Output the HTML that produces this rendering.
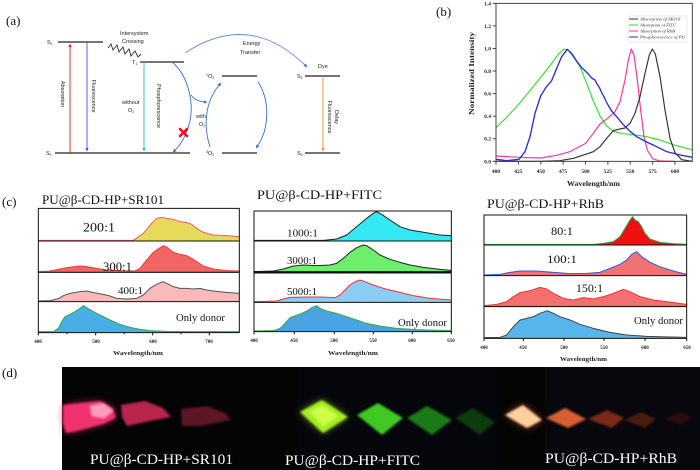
<!DOCTYPE html>
<html><head><meta charset="utf-8">
<style>html,body{margin:0;padding:0;background:#fff}svg{display:block}</style>
</head><body>
<svg xmlns="http://www.w3.org/2000/svg" width="700" height="470" viewBox="0 0 700 470">
<defs>
<marker id="mr" viewBox="0 0 10 10" refX="9" refY="5" markerWidth="4" markerHeight="4" orient="auto"><path d="M0,0 L10,5 L0,10z" fill="#e82020"/></marker>
<marker id="mp" viewBox="0 0 10 10" refX="9" refY="5" markerWidth="4" markerHeight="4" orient="auto"><path d="M0,0 L10,5 L0,10z" fill="#4f4fe0"/></marker>
<marker id="mc" viewBox="0 0 10 10" refX="9" refY="5" markerWidth="4" markerHeight="4" orient="auto"><path d="M0,0 L10,5 L0,10z" fill="#20c0c8"/></marker>
<marker id="mo" viewBox="0 0 10 10" refX="9" refY="5" markerWidth="4" markerHeight="4" orient="auto"><path d="M0,0 L10,5 L0,10z" fill="#f08a40"/></marker>
<marker id="mb" viewBox="0 0 10 10" refX="9" refY="5" markerWidth="4" markerHeight="4" orient="auto"><path d="M0,0 L10,5 L0,10z" fill="#3a6fc8"/></marker>
<filter id="bl" x="-30%" y="-30%" width="160%" height="160%"><feGaussianBlur stdDeviation="1"/></filter>
<filter id="bl2" x="-50%" y="-50%" width="200%" height="200%"><feGaussianBlur stdDeviation="4"/></filter>
</defs>
<rect width="700" height="470" fill="#fff"/>

<!-- ============ PANEL A ============ -->
<text x="6" y="25" font-family="Liberation Serif, serif" font-size="13" fill="#111">(a)</text>
<g stroke="#222" stroke-width="1.3">
<line x1="58" y1="42" x2="103" y2="42"/>
<line x1="55" y1="153" x2="190" y2="153"/>
<line x1="140" y1="62" x2="184" y2="62"/>
<line x1="222" y1="76" x2="257" y2="76"/>
<line x1="222" y1="153" x2="257" y2="153"/>
<line x1="305" y1="76" x2="340" y2="76"/>
<line x1="305" y1="153" x2="340" y2="153"/>
</g>
<line x1="70" y1="153" x2="70" y2="44" stroke="#e82020" stroke-width="0.9" marker-end="url(#mr)"/>
<line x1="87" y1="42" x2="87" y2="151" stroke="#4f4fe0" stroke-width="0.9" marker-end="url(#mp)"/>
<line x1="144" y1="62" x2="144" y2="151" stroke="#20c0c8" stroke-width="0.9" marker-end="url(#mc)"/>
<line x1="323" y1="76" x2="323" y2="151" stroke="#f08a40" stroke-width="0.9" marker-end="url(#mo)"/>
<polyline points="108,48 111,44 113,50 117,45 119,52 123,47 125,54 129,49 131,56 135,51 138,57 141,54" fill="none" stroke="#2a2a50" stroke-width="0.9"/>
<g fill="none" stroke="#3a6fc8" stroke-width="0.9">
<path d="M172,62 C188,75 196,105 188,128 C184,140 178,148 173,152" marker-end="url(#mb)"/>
<path d="M191,95 Q196,102 207,102" marker-end="url(#mb)"/>
<path d="M210,147 C203,125 205,100 221,83" marker-end="url(#mb)"/>
<path d="M258,82 C270,100 270,130 256,148" marker-end="url(#mb)"/>
<path d="M185,53 Q250,10 307,67" stroke="#6a8fc8" marker-end="url(#mb)"/>
</g>
<g stroke="#e8101c" stroke-width="2.6" stroke-linecap="round">
<line x1="180" y1="129" x2="187" y2="136"/><line x1="187" y1="129" x2="180" y2="136"/>
</g>
<g font-family="Liberation Sans, sans-serif" font-size="5.5" fill="#222">
<text x="47" y="44">S<tspan font-size="3.5" dy="1">1</tspan></text>
<text x="46" y="155">S<tspan font-size="3.5" dy="1">0</tspan></text>
<text x="132" y="64">T<tspan font-size="3.5" dy="1">1</tspan></text>
<text x="120" y="35">Intersystem</text>
<text x="122" y="43">Crossing</text>
<text x="122" y="104">without</text>
<text x="128" y="112">O<tspan font-size="3.5" dy="1">2</tspan></text>
<text x="196" y="118">with</text>
<text x="199" y="126">O<tspan font-size="3.5" dy="1">2</tspan></text>
<text x="206" y="78"><tspan font-size="3.5" dy="-2">1</tspan><tspan dy="2">O</tspan><tspan font-size="3.5" dy="1">2</tspan></text>
<text x="206" y="155"><tspan font-size="3.5" dy="-2">3</tspan><tspan dy="2">O</tspan><tspan font-size="3.5" dy="1">2</tspan></text>
<text x="243" y="45">Energy</text>
<text x="240" y="54">Transfer</text>
<text x="318" y="68">Dye</text>
<text x="297" y="78">S<tspan font-size="3.5" dy="1">1</tspan></text>
<text x="297" y="155">S<tspan font-size="3.5" dy="1">0</tspan></text>
<text transform="translate(61,94) rotate(90)" text-anchor="middle">Absorption</text>
<text transform="translate(92,96) rotate(90)" text-anchor="middle">Fluorescence</text>
<text transform="translate(157,106) rotate(90)" text-anchor="middle">Phosphorescence</text>
<text transform="translate(335,117) rotate(90)" text-anchor="middle">Delay</text>
<text transform="translate(328,117) rotate(90)" text-anchor="middle">Fluorescence</text>
</g>

<!-- ============ PANEL B ============ -->
<text x="436" y="16" font-family="Liberation Serif, serif" font-size="13" fill="#111">(b)</text>
<g transform="translate(460,0) scale(0.33333)" fill="none" stroke-linejoin="round">
<path d="M108,383 L140,352 177,312 210,272 242,232 270,197 295,163 312,147 325,151 340,170 360,200 380,250 400,303 420,348 440,378 460,394 490,401 520,404 560,410 600,420 640,434 697,450" stroke="#33dd33" stroke-width="3.5"/>
<path d="M108,468 L177,472 242,474 290,466 330,455 377,430 400,400 420,372 443,355 465,335 480,305 495,240 505,180 514,147 522,165 532,240 542,330 552,410 562,450 578,476 600,483 645,484" stroke="#ff3399" stroke-width="3.5"/>
<path d="M108,484 L240,484 300,482 340,475 377,463 400,455 420,440 440,415 460,392 475,388 495,384 510,370 525,340 540,290 555,220 568,165 577,147 586,162 600,230 615,330 630,415 645,458 665,479 697,484" stroke="#333" stroke-width="3.5"/>
<path d="M108,478 L140,482 177,478 195,455 210,410 225,340 242,288 258,262 275,242 290,205 305,170 322,148 335,160 350,183 365,203 377,214 385,222 395,234 405,240 410,250 418,262 425,278 433,292 440,308 455,333 470,350 490,374 510,394 530,410 560,426 590,440 620,455 660,465 697,472" stroke="#2b2bd8" stroke-width="4"/>
<rect x="108" y="10" width="589" height="474" stroke="#444" stroke-width="3"/>
<g stroke="#444" stroke-width="3">
<path d="M108,484v10M175.1,484v10M242.3,484v10M309.4,484v10M376.5,484v10M443.6,484v10M510.8,484v10M577.9,484v10M645,484v10"/>
<path d="M108,484h-10M108,416.3h-10M108,348.6h-10M108,280.9h-10M108,213.1h-10M108,145.4h-10M108,77.7h-10M108,10h-10"/>
</g>
</g>
<g font-family="Liberation Serif, serif" font-size="5.5" font-weight="bold" fill="#222" text-anchor="middle">
<text x="496" y="173">400</text><text x="518.4" y="173">425</text><text x="540.7" y="173">450</text>
<text x="563.1" y="173">475</text><text x="585.5" y="173">500</text><text x="607.8" y="173">525</text>
<text x="630.2" y="173">550</text><text x="652.6" y="173">575</text><text x="675" y="173">600</text>
</g>
<g font-family="Liberation Serif, serif" font-size="5.5" font-weight="bold" fill="#222" text-anchor="end">
<text x="491" y="163.3">0.0</text><text x="491" y="140.7">0.2</text><text x="491" y="118.2">0.4</text>
<text x="491" y="95.6">0.6</text><text x="491" y="73">0.8</text><text x="491" y="50.5">1.0</text>
<text x="491" y="27.9">1.2</text><text x="491" y="5.5">1.4</text>
</g>
<text x="567" y="186" font-family="Liberation Serif, serif" font-size="7.5" font-weight="bold" fill="#222" textLength="53" lengthAdjust="spacingAndGlyphs">Wavelength/nm</text>
<text transform="translate(474,115) rotate(-90)" font-family="Liberation Serif, serif" font-size="7.5" font-weight="bold" fill="#222" textLength="83" lengthAdjust="spacingAndGlyphs">Normalized Intensity</text>
<rect x="628" y="16" width="59" height="26" fill="#fff" stroke="#ccc" stroke-width="0.4"/>
<g stroke-width="1">
<line x1="629" y1="19" x2="638" y2="19" stroke="#333"/>
<line x1="629" y1="25" x2="638" y2="25" stroke="#33dd33"/>
<line x1="629" y1="31" x2="638" y2="31" stroke="#ff3399"/>
<line x1="629" y1="37" x2="638" y2="37" stroke="#2b2bd8"/>
</g>
<g font-family="Liberation Serif, serif" font-size="4.2" font-style="italic" fill="#333">
<text x="640" y="20.5" textLength="41" lengthAdjust="spacingAndGlyphs">Absorption of SR101</text>
<text x="640" y="26.5" textLength="36" lengthAdjust="spacingAndGlyphs">Absorption of FITC</text>
<text x="640" y="32.5" textLength="35" lengthAdjust="spacingAndGlyphs">Absorption of RhB</text>
<text x="640" y="38.5" textLength="45" lengthAdjust="spacingAndGlyphs">Phosphorescence of PU</text>
</g>

<!-- ============ PANEL C ============ -->
<g font-family="Liberation Serif, serif" fill="#111">
<text x="2" y="206" font-size="13">(c)</text>
<text x="42" y="204" font-size="13" textLength="122" lengthAdjust="spacingAndGlyphs">PU@β-CD-HP+SR101</text>
<text x="257" y="199" font-size="13" textLength="125" lengthAdjust="spacingAndGlyphs">PU@β-CD-HP+FITC</text>
<text x="487" y="208" font-size="13" textLength="117" lengthAdjust="spacingAndGlyphs">PU@β-CD-HP+RhB</text>
</g>

<!-- c1 -->
<g transform="translate(0,165) scale(0.33333)" stroke-linejoin="round">
<path d="M115,226 L400,226 430,205 455,175 470,160 485,157 500,160 520,163 540,170 560,172 575,178 590,190 610,202 640,210 680,212 718,215 L718,227 L115,227Z" fill="#e5da5a"/>
<path d="M115,226 L400,226 430,205 455,175 470,160 485,157 500,160 520,163 540,170 560,172 575,178 590,190 610,202 640,210 680,212 718,215" fill="none" stroke="#f05a6a" stroke-width="3"/>
<path d="M115,320 L150,318 180,312 200,308 240,303 260,305 290,310 320,315 380,318 405,318 420,310 440,285 460,262 480,248 490,242 500,246 520,262 540,268 560,272 575,280 590,290 610,303 640,312 680,317 718,318 L718,321 L115,321Z" fill="#f26565" stroke="#e83c3c" stroke-width="3"/>
<path d="M115,408 L150,407 175,401 190,392 210,385 240,380 260,378 280,383 310,388 330,393 350,400 380,402 410,400 430,390 450,370 470,358 488,350 500,355 520,365 540,370 560,370 580,372 600,370 620,375 640,378 680,382 718,385 L718,409 L115,409Z" fill="#f8baba"/>
<path d="M115,408 L150,407 175,401 190,392 210,385 240,380 260,378 280,383 310,388 330,393 350,400 380,402 410,400 430,390 450,370 470,358 488,350 500,355 520,365 540,370 560,370 580,372 600,370 620,375 640,378 680,382 718,385" fill="none" stroke="#555" stroke-width="3"/>
<path d="M115,500 L160,500 175,490 185,470 195,455 210,448 225,440 240,430 250,422 260,428 280,440 300,450 330,465 360,478 390,487 420,493 450,497 500,499 560,500 718,500 L718,502 L115,502Z" fill="#4aaee6"/>
<path d="M115,500 L160,500 175,490 185,470 195,455 210,448 225,440 240,430 250,422 260,428 280,440 300,450 330,465 360,478 390,487 420,493 450,497 500,499 560,500 718,500" fill="none" stroke="#2fa84a" stroke-width="3"/>
<rect x="115" y="130" width="603" height="373" fill="none" stroke="#111" stroke-width="3"/>
<path d="M115,228H718M115,322H718M115,410H718" stroke="#111" stroke-width="3"/>
<path d="M115,503v8M201,503v5M287,503v8M372.5,503v5M458,503v8M543,503v5M628,503v8" stroke="#111" stroke-width="3"/>
</g>
<g font-family="Liberation Serif, serif" fill="#111" font-size="13">
<text x="83" y="231.5" textLength="32" lengthAdjust="spacingAndGlyphs">200:1</text>
<text x="103" y="271" textLength="29" lengthAdjust="spacingAndGlyphs">300:1</text>
<text x="118" y="294" textLength="25" lengthAdjust="spacingAndGlyphs" font-size="11">400:1</text>
<text x="176" y="321" textLength="49" lengthAdjust="spacingAndGlyphs" font-size="11">Only  donor</text>
</g>
<g font-family="Liberation Serif, serif" font-size="5" font-weight="bold" fill="#222" text-anchor="middle">
<text x="38" y="343">400</text><text x="96" y="343">500</text><text x="153" y="343">600</text><text x="209" y="343">700</text>
</g>
<text x="113" y="355" font-family="Liberation Serif, serif" font-size="6" font-weight="bold" fill="#222" textLength="50" lengthAdjust="spacingAndGlyphs">Wavelength/nm</text>

<!-- c2 -->
<g transform="translate(240,165) scale(0.33333)" stroke-linejoin="round">
<path d="M42,226 L250,226 290,222 320,210 350,185 380,160 400,145 410,140 425,148 450,165 480,185 510,195 540,200 570,205 600,210 634,212 L634,227 L42,227Z" fill="#33e8f2"/>
<path d="M42,226 L250,226 290,222 320,210 350,185 380,160 400,145 410,140 425,148 450,165 480,185 510,195 540,200 570,205 600,210 634,212" fill="none" stroke="#222" stroke-width="3"/>
<path d="M42,320 L100,318 130,312 160,303 190,300 230,302 270,300 290,295 310,280 330,262 350,248 370,240 380,242 400,255 420,270 450,283 480,292 510,300 550,307 600,313 634,316 L634,321 L42,321Z" fill="#6cf06c"/>
<path d="M42,320 L100,318 130,312 160,303 190,300 230,302 270,300 290,295 310,280 330,262 350,248 370,240 380,242 400,255 420,270 450,283 480,292 510,300 550,307 600,313 634,316" fill="none" stroke="#222" stroke-width="3"/>
<path d="M42,410 L110,408 130,402 150,397 200,396 240,396 285,398 300,390 315,375 330,360 345,350 360,345 375,350 400,360 430,370 470,380 520,392 570,400 634,405 L634,411 L42,411Z" fill="#8ccdf5"/>
<path d="M42,410 L110,408 130,402 150,397 200,396 240,396 285,398 300,390 315,375 330,360 345,350 360,345 375,350 400,360 430,370 470,380 520,392 570,400 634,405" fill="none" stroke="#f03030" stroke-width="3"/>
<path d="M42,498 L100,497 120,490 135,475 150,458 165,452 185,445 200,438 215,428 230,422 240,430 260,438 290,445 320,455 350,465 380,475 420,483 470,490 530,494 634,497 L634,499 L42,499Z" fill="#4aa3e2"/>
<path d="M42,498 L100,497 120,490 135,475 150,458 165,452 185,445 200,438 215,428 230,422 240,430 260,438 290,445 320,455 350,465 380,475 420,483 470,490 530,494 634,497" fill="none" stroke="#3aaa44" stroke-width="3"/>
<rect x="42" y="138" width="592" height="362" fill="none" stroke="#111" stroke-width="3"/>
<path d="M42,228H634M42,412H634" stroke="#111" stroke-width="3"/>
<path d="M42,322H634" stroke="#111" stroke-width="7"/>
<path d="M42,500v8M163,500v8M283,500v8M400,500v8M517,500v8M634,500v8" stroke="#111" stroke-width="3"/>
</g>
<g font-family="Liberation Serif, serif" fill="#111" font-size="11">
<text x="287" y="236.5" textLength="31" lengthAdjust="spacingAndGlyphs">1000:1</text>
<text x="287" y="264" textLength="30" lengthAdjust="spacingAndGlyphs">3000:1</text>
<text x="287" y="295" textLength="30" lengthAdjust="spacingAndGlyphs">5000:1</text>
<text x="398" y="326" textLength="49" lengthAdjust="spacingAndGlyphs">Only  donor</text>
</g>
<g font-family="Liberation Serif, serif" font-size="5" font-weight="bold" fill="#222" text-anchor="middle">
<text x="254" y="342">400</text><text x="294" y="342">450</text><text x="334" y="342">500</text>
<text x="373" y="342">550</text><text x="412" y="342">600</text><text x="451" y="342">650</text>
</g>
<text x="328" y="355" font-family="Liberation Serif, serif" font-size="6" font-weight="bold" fill="#222" textLength="50" lengthAdjust="spacingAndGlyphs">Wavelength/nm</text>

<!-- c3 -->
<g transform="translate(460,165) scale(0.33333)" stroke-linejoin="round">
<path d="M72,238 L400,238 430,235 460,230 480,215 495,190 510,165 518,155 525,165 535,170 545,185 555,205 570,222 600,232 640,236 680,238 L680,239 L72,239Z" fill="#f01010"/>
<path d="M72,238 L400,238 430,235 460,230 480,215 495,190 510,165 518,155 525,165 535,170 545,185 555,205 570,222 600,232 640,236 680,238" fill="none" stroke="#22aa44" stroke-width="3"/>
<path d="M72,330 L120,328 150,322 180,318 230,318 280,322 330,326 380,325 420,322 450,310 480,298 500,285 515,268 530,260 545,275 570,292 600,305 640,318 680,328 L680,331 L72,331Z" fill="#f27272"/>
<path d="M72,330 L120,328 150,322 180,318 230,318 280,322 330,326 380,325 420,322 450,310 480,298 500,285 515,268 530,260 545,275 570,292 600,305 640,318 680,328" fill="none" stroke="#3355dd" stroke-width="3"/>
<path d="M72,422 L110,418 140,410 160,395 180,383 210,377 240,367 260,372 280,385 310,400 340,405 370,398 400,402 430,395 460,385 490,373 510,380 540,395 580,405 620,410 680,418 L680,424 L72,424Z" fill="#f27070" stroke="#ee3333" stroke-width="3"/>
<path d="M72,518 L120,517 140,510 160,485 180,465 200,460 220,455 240,445 262,437 280,445 300,455 330,465 360,478 400,490 450,502 500,510 560,514 680,517 L680,519 L72,519Z" fill="#56b6ec"/>
<path d="M72,518 L120,517 140,510 160,485 180,465 200,460 220,455 240,445 262,437 280,445 300,455 330,465 360,478 400,490 450,502 500,510 560,514 680,517" fill="none" stroke="#444" stroke-width="3"/>
<rect x="72" y="150" width="608" height="370" fill="none" stroke="#111" stroke-width="3"/>
<path d="M72,240H680M72,332H680M72,425H680" stroke="#111" stroke-width="3"/>
<path d="M72,520v8M190,520v8M312,520v8M432,520v8M555,520v8M680,520v8" stroke="#111" stroke-width="3"/>
</g>
<g font-family="Liberation Serif, serif" fill="#111" font-size="12">
<text x="551" y="235" textLength="22" lengthAdjust="spacingAndGlyphs">80:1</text>
<text x="547" y="263" textLength="30" lengthAdjust="spacingAndGlyphs">100:1</text>
<text x="576" y="292" textLength="27" lengthAdjust="spacingAndGlyphs">150:1</text>
<text x="634" y="324" font-size="11" textLength="49" lengthAdjust="spacingAndGlyphs">Only  donor</text>
</g>
<g font-family="Liberation Serif, serif" font-size="5" font-weight="bold" fill="#222" text-anchor="middle">
<text x="484" y="349">400</text><text x="523" y="349">450</text><text x="564" y="349">500</text>
<text x="604" y="349">550</text><text x="645" y="349">600</text><text x="687" y="349">650</text>
</g>
<text x="560" y="361" font-family="Liberation Serif, serif" font-size="6" font-weight="bold" fill="#222" textLength="47" lengthAdjust="spacingAndGlyphs">Wavelength/nm</text>

<!-- ============ PANEL D ============ -->
<text x="2" y="377" font-family="Liberation Serif, serif" font-size="13" fill="#111">(d)</text>
<rect x="62" y="367" width="638" height="103" fill="#040404"/>
<rect x="297" y="367" width="200" height="103" fill="#05060c"/>
<rect x="545" y="367" width="155" height="103" fill="#07070d"/>
<!-- glows -->
<g filter="url(#bl2)" opacity="0.7">
<polygon points="63,405 100,401 113,408 116,418 103,424 77,431 66,433 63,423" fill="#c0205a"/>
<polygon points="300,412 322,400 348,417 323,433" fill="#7fb020"/>
<polygon points="505,415 523,405 542,420 527,428" fill="#c05020"/>
</g>
<g filter="url(#bl)">
<polygon points="63,405 100,401 113,408 116,418 103,424 77,431 66,433 63,423" fill="#f0306e"/>
<polygon points="90,406 104,403 113,411 104,418 92,416" fill="#ff9cc0"/>
<polygon points="121,405 145,401 163,408 171,417 150,421 127,426 122,417" fill="#b8264e"/>
<polygon points="181,409 207,406 225,413 231,420 200,426 182,426" fill="#5c1228"/>
<polygon points="300,412 322,400 348,417 323,433" fill="#a6ee24"/>
<polygon points="310,412 322,405 338,416 323,426" fill="#ccff48"/>
<polygon points="357,415 378,403 403,418 382,435" fill="#42c820"/>
<polygon points="407,418 427,406 452,420 432,435" fill="#1d7a15"/>
<polygon points="455,418 473,408 495,422 480,435" fill="#0d3a09"/>
<polygon points="505,415 523,405 542,420 527,428" fill="#ffcfa0"/>
<polygon points="546,418 565,408 586,419 568,428" fill="#d66030"/>
<polygon points="588,419 607,410 624,418 612,428" fill="#7a2c18"/>
<polygon points="624,420 641,412 656,419 645,428" fill="#4a1a10"/>
<polygon points="665,419 682,412 692,418 680,425" fill="#2a0e08"/>
</g>
<g font-family="Liberation Serif, serif" font-size="14.5" fill="#fff">
<text x="90" y="464" textLength="143" lengthAdjust="spacingAndGlyphs">PU@β-CD-HP+SR101</text>
<text x="285" y="465" textLength="135" lengthAdjust="spacingAndGlyphs">PU@β-CD-HP+FITC</text>
<text x="545" y="463" textLength="132" lengthAdjust="spacingAndGlyphs">PU@β-CD-HP+RhB</text>
</g>
</svg>
</body></html>
